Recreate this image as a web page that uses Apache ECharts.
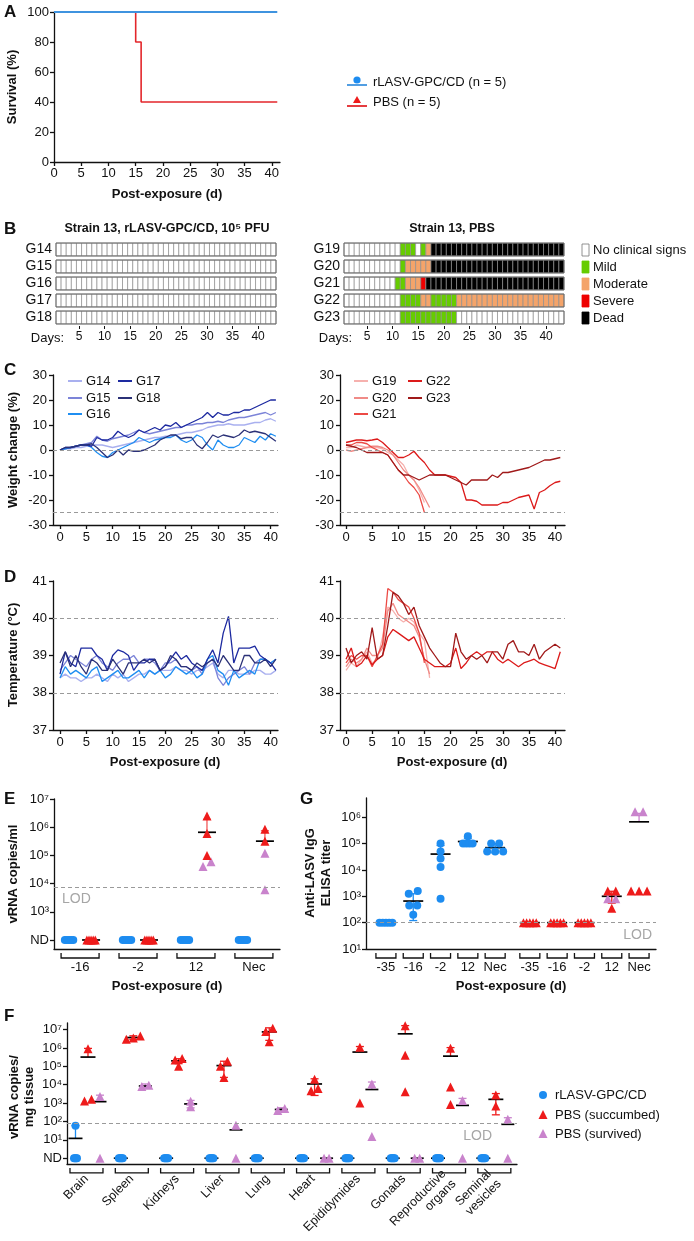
<!DOCTYPE html>
<html>
<head>
<meta charset="utf-8">
<script src="https://cdn.jsdelivr.net/npm/echarts@6.0.0/dist/echarts.min.js"></script>
<style>html,body{margin:0;padding:0;background:#fff;}#chart{width:694px;height:1241px;}</style>
</head>
<body>
<div id="chart"></div>
<script>
// ================= DATA =================
// A: survival
const survDaysVacc = [0, 41];
const survVacc = [100, 100];
const survDaysPBS = [0, 15, 16, 41];
const survPBS = [100, 80, 40, 40];
const xTicks40 = [0, 5, 10, 15, 20, 25, 30, 35, 40];
const survTicks = [0, 20, 40, 60, 80, 100];

// B: clinical signs (run-length: [status, number of days]); 0 none,1 mild,2 moderate,3 severe,4 dead
const vaccIds = ['G14', 'G15', 'G16', 'G17', 'G18'];
const pbsIds = ['G19', 'G20', 'G21', 'G22', 'G23'];
const signsVacc = [[[0, 43]], [[0, 43]], [[0, 43]], [[0, 43]], [[0, 43]]];
const signsPBS = [
  [[0, 11], [1, 3], [0, 1], [1, 1], [2, 1], [4, 26]],
  [[0, 11], [1, 1], [2, 5], [4, 26]],
  [[0, 10], [1, 2], [2, 3], [3, 1], [4, 27]],
  [[0, 11], [1, 4], [2, 2], [1, 5], [2, 21]],
  [[0, 11], [1, 11], [0, 21]]
];
const dayTicks = [5, 10, 15, 20, 25, 30, 35, 40];
const signNames = ['No clinical signs', 'Mild', 'Moderate', 'Severe', 'Dead'];

// C: weight change (%) per day from day 0
const wG14 = [0,0.5,0.5,1,1,1.5,2,2,2,1.5, 1,1.5,2,2.5,3,3.5,4,4.5,5,5, 5.5,5.5,6,6.5,7,7,7.5,8,9,9.5, 10,10,10.5,10,10,10,10.5,11,11,12, 12.5,11.5];
const wG15 = [0,0.5,1,1.5,2,2.5,3,5.5,4,3.5, 4.5,5,5.5,6,7,8,7,6.5,7,7.5, 8,8.5,9,9,10,10,10.5,10.5,11,11, 11.5,11,12,12.5,13,13,13.5,14,14.5,15, 14,15];
const wG16 = [0,0.5,1,1.5,2,2,1,-1,-2.5,-3, -1,0,1,2,3,5,4,3,4,4.5, 5,5,6,4,3,4,6,5,2,0, 4,2,1,1,2,5,4,3,5.5,4, 6.5,5.5];
const wG17 = [0,1,1,1.5,2,2,1.5,5,4,4, 5,7.5,6,5,6,8,7,8,9,8, 10,9.5,11,9,10,11,12,13,15,13, 15,14,14,15,15,16,16,17,18,19, 20,20];
const wG18 = [0,1,1,1.5,2,2,2.5,1,-1,-3, -2,0,-2,0,-0.5,-0.5,0,1,2,4, 5,6,6,4.5,5,5,2,0.5,3,6, 5,6,5.5,5,6,8,7,7.5,7,6.5, 5,3.5];
const wG19 = [1,1,2,1.5,1,1,1,0.5,-1,-2, -4,-6,-10,-12,-16,-21];
const wG20 = [0,-0.5,0,0.5,1,1.5,1.5,1,0,-2, -5,-8,-10,-12,-15,-19,-23];
const wG21 = [2,2,3,3,2.5,1,0,-1,-2,-5, -8,-10,-13,-15,-18,-25];
const wG22 = [3,3.5,4,4,3.7,4,4.4,3,1,-1, -3,-3,-2,-0.5,-3,-5, -8,-10,-10,-10, -10.5,-11,-13,-20,-20,-20.5, -22,-22,-22,-22, -21,-21,-20,-19,-18.5,-18, -23.6,-17,-16,-14.3, -13,-12.5];
const wG23 = [2,1.5,1,0,-1,-1,-1,-1,-2,-5, -8,-10,-10,-11,-12,-11, -10,-10,-10,-10,-11,-12,-13,-14,-12,-12, -12,-12,-10,-11,-9,-9,-8.5,-8,-7.5,-7, -6,-5,-4,-4,-3.5,-3];
const weightTicks = [-30, -20, -10, 0, 10, 20, 30];
const weightRefs = [0, -25];

// D: temperature (°C)
const tG14 = [38.4,38.5,38.4,38.4,38.3,38.4,38.4,38.5,38.4,38.3, 38.5,38.4,38.5,38.3,38.4,38.5,38.5,38.6,38.5,38.6, 38.6,38.6,38.7,38.6,38.6,38.5,38.6,38.6,38.7,38.8, 38.5,38.4,38.6,38.6,38.5,38.5,38.5,38.6,38.6,38.5, 38.5,38.6];
const tG15 = [38.6,38.8,39.0,38.9,38.8,38.7,38.9,39.0,38.8,38.7, 38.6,38.8,38.9,38.9,39.0,38.8,38.9,38.9,38.8,38.6, 38.8,38.8,38.9,38.7,38.7,38.6,38.7,38.5,38.8,38.9, 38.4,38.2,38.4,38.5,38.6,38.7,38.5,38.8,38.9,38.9, 38.8,38.9];
const tG16 = [38.4,38.7,38.5,38.6,38.5,38.4,38.6,38.7,38.3,38.4, 38.5,38.6,38.4,38.4,38.5,38.6,38.4,38.6,38.5,38.6, 38.4,38.5,38.7,38.6,38.5,38.6,38.4,38.5,38.9,39.0, 38.6,38.5,38.2,38.6,38.4,38.5,38.6,38.5,38.9,38.9, 38.8,38.9];
const tG17 = [38.5,39.1,38.8,38.7,39.2,39.2,39.2,39.0,38.9,38.6, 39.0,39.15,39.1,39.0,38.6,38.8,38.8,38.9,38.9,38.6, 38.7,38.9,39.1,38.9,39.0,38.8,38.7,38.6,38.9,39.15, 38.8,39.6,40.05,38.8,39.2,39.2,39.2,39.25,39.0,38.9, 38.8,38.6];
const tG18 = [38.8,39.1,38.7,39.0,38.7,38.5,38.9,38.8,38.6,38.6, 38.9,38.7,38.5,38.8,38.8,38.8,38.9,38.8,38.9,38.6, 38.7,39.0,38.9,38.7,38.7,38.6,38.8,38.7,38.8,38.9, 38.7,39.0,38.8,38.6,38.6,39.0,39.0,38.8,38.8,38.9, 38.7,38.9];
const tG19 = [38.6,38.8,38.7,38.9,39.1,38.8,38.9,39.5,40.3,40.2, 40.0,39.9,40.0,39.9,39.6,39.4,38.4];
const tG20 = [38.7,38.9,38.8,38.9,39.2,39.0,39.0,39.2,40.2,40.4, 40.1,40.0,39.9,39.8,39.5,38.9,38.5];
const tG21 = [38.8,39.0,38.9,39.0,39.0,38.7,39.0,39.3,40.8,40.7, 40.5,40.4,40.3,40.0,39.6,38.8];
const tG22 = [38.9,39.2,38.7,38.8,39.0,38.75,38.9,39.0,39.5,39.7, 39.6,39.5,39.4,39.5,39.2,38.9, 38.8,38.7,38.7,38.7,38.8,39.2,38.65,38.8,39.0,39.1, 39.0,39.1,39.1,38.9,38.8,38.9,38.8,38.7,38.8,38.85, 38.9,38.8,38.75,38.7,38.65,39.1];
const tG23 = [39.2,38.8,39.0,39.1,38.9,39.75,38.9,39.0,39.8,40.7, 40.6,40.4,40.1,40.3,39.8,39.5, 39.2,39.0,38.8,38.7,38.7,39.6,39.1,38.9,39.0,38.9, 39.0,38.8,39.1,39.1,38.9,39.3,39.4,39.1,39.1,39.0, 39.3,38.9,39.1,39.2,39.3,39.2];
const tempTicks = [37, 38, 39, 40, 41];
const tempRefs = [40, 38];

// E: vRNA copies/ml (0 = ND)
const eCats = ['-16', '-2', '12', 'Nec'];
const eVacc = [[0,0,0,0,0], [0,0,0,0,0], [0,0,0,0,0], [0,0,0,0,0]];
const eVaccMean = [0, 0, 0, 0];
const ePbsSucc = [[0,0,0,0,0], [0,0,0,0,0], [2.5e6, 6e5, 1e5], [8.5e5, 3.2e5]];
const ePbsSurv = [[], [], [4e4, 6e4], [1.2e5, 6e3]];
const ePbsMean = [0, 0, 6.6e5, 3.2e5];
const ePbsUp = [null, null, 1.9e6, 7.5e5];
const eLOD = 7.5e3;
const eTicks = [2, 3, 4, 5, 6, 7];

// G: anti-LASV IgG ELISA titer
const gCats = ['-35', '-16', '-2', '12', 'Nec'];
const gVacc = [[100,100,100,100,100], [1600,1250,450,450,200], [1e5,5e4,2.7e4,1.3e4,800], [1.9e5,1e5,1e5,1e5,1e5], [1e5,1e5,5e4,5e4,5e4]];
const gVaccMean = [100, 660, 4e4, 1.2e5, 7e4];
const gVaccUp = [null, 1250, 8.5e4, 1.6e5, 1e5];
const gVaccLo = [null, 120, null, 8.5e4, 4.5e4];
const gPbsSucc = [[100,100,100,100,100], [100,100,100,100,100], [100,100,100,100,100], [1600,1600,350], [1600,1600,1600]];
const gPbsSurv = [[], [], [], [800, 800], [1.6e6, 1.6e6]];
const gPbsMean = [100, 100, 100, 1000, 6.7e5];
const gPbsUp = [null, null, null, 1550, 1.4e6];
const gPbsLo = [null, null, null, 550, null];
const gLOD = 100;
const gTicks = [1, 2, 3, 4, 5, 6];

// F: vRNA copies/mg tissue (0 = ND)
const fCats = ['Brain', 'Spleen', 'Kidneys', 'Liver', 'Lung', 'Heart', 'Epididymides', 'Gonads', 'Reproductive\norgans', 'Seminal\nvesicles'];
const fVacc = [[59,0,0,0,0], [0,0,0,0,0], [0,0,0,0,0], [0,0,0,0,0], [0,0,0,0,0], [0,0,0,0,0], [0,0,0,0,0], [0,0,0,0,0], [0,0,0,0,0], [0,0,0,0,0]];
const fVaccMean = [12, 0, 0, 0, 0, 0, 0, 0, 0, 0];
const fVaccUp = [59, null, null, null, null, null, null, null, null, null];
const fSucc = [[9e5, 1.6e3, 1.3e3], [4.5e6, 3.5e6, 3e6], [2.7e5, 2.2e5, 1e5], [1.9e5, 1e5, 2.5e4], [1.2e7, 8e6, 2.2e6], [2e4, 6.3e3, 4.7e3], [1.1e6, 1e3], [1.6e7, 4e5, 4.2e3], [9.8e5, 7.6e3, 850], [2.8e3, 700]];
const fSuccMean = [3.2e5, 3.7e6, 2e5, 1.1e5, 7.5e6, 1.1e4, 6e5, 5.9e6, 3.6e5, 1.6e3];
const fSuccUp = [9.5e5, 4.6e6, 2.6e5, 1.9e5, 1.25e7, 2.1e4, 1.2e6, 1.65e7, 1.05e6, 3.3e3];
const fSuccLo = [null, 2.9e6, 1.4e5, 2.5e4, 2.6e6, 2.6e3, null, null, null, 230];
const fSurv = [[2.3e3, 0], [9.5e3, 8e3], [1.26e3, 630], [63, 0], [500, 400], [0, 0], [1.1e4, 15], [0, 0], [1.4e3, 0], [130, 0]];
const fSurvMean = [1.2e3, 8.5e3, 900, 35, 450, 0, 5.5e3, 0, 750, 70];
const fSurvUp = [2.7e3, 1.1e4, 1.4e3, null, 560, null, 1.4e4, null, 1.8e3, 160];
const fSurvLo = [null, 7e3, 550, null, 360, null, null, null, null, null];
const fLOD = 80;
const fTicks = [0, 1, 2, 3, 4, 5, 6, 7];

// ================= STYLE / BUILD =================
const FONT = '"Liberation Sans", Arial, Helvetica, sans-serif';
const INK = '#111';
const BLUE = '#1d8cf0', RED = '#ee1b1b', PINK = '#c983cc';
const VACC_COLORS = ['#a9b0ef', '#7c84d8', '#1f8ef1', '#1d2aa0', '#2b3177'];
const PBS_COLORS = ['#f6b1ae', '#f08b87', '#ec4a45', '#dc1a1a', '#a01a1a'];
const SIGN_COLORS = ['#ffffff', '#66cc00', '#f4a46a', '#ee0000', '#000000'];
const SUP = {'1':'\u00b9','2':'\u00b2','3':'\u00b3','4':'\u2074','5':'\u2075','6':'\u2076','7':'\u2077'};
const pow10 = v => '10' + SUP[String(v)];

function merge(a, b) {
  const o = Object.assign({}, a);
  for (const k in b) {
    const v = b[k];
    if (v && typeof v === 'object' && !Array.isArray(v) && o[k] && typeof o[k] === 'object' && !Array.isArray(o[k])) o[k] = merge(o[k], v);
    else o[k] = v;
  }
  return o;
}
const baseAxis = {
  type: 'value', splitLine: {show: false},
  axisLine: {show: true, onZero: false, lineStyle: {color: INK, width: 1.3}},
  axisTick: {show: true, length: 4, lineStyle: {color: INK, width: 1.3}},
  axisLabel: {color: INK, fontSize: 13, fontFamily: FONT, margin: 6}
};
const valAxis = o => merge(baseAxis, o || {});

const grids = [], xAxis = [], yAxis = [], series = [];
function addGrid(rect, xa, ya) {
  const gi = grids.length;
  grids.push(rect);
  xa.gridIndex = gi; ya.gridIndex = gi;
  xAxis.push(xa); yAxis.push(ya);
  return gi;
}
function lineSeries(gi, arr, color, w) {
  return {type: 'line', xAxisIndex: gi, yAxisIndex: gi, data: arr.map((v, i) => [i, v]), showSymbol: false, symbol: 'none',
    lineStyle: {color, width: w || 1.3}, itemStyle: {color}, z: 3, silent: true};
}
function refLines(values) {
  return {silent: true, symbol: 'none', label: {show: false}, lineStyle: {color: '#9a9a9a', type: [4, 3], width: 1.2},
    data: values.map(v => ({yAxis: v}))};
}

// ---- A ----
const gA = addGrid({left: 54, top: 12, width: 226, height: 150},
  valAxis({min: 0, max: 41.5, axisTick: {customValues: xTicks40}, axisLabel: {customValues: xTicks40, margin: 5}}),
  valAxis({min: 0, max: 100, axisTick: {customValues: survTicks}, axisLabel: {customValues: survTicks, margin: 5}}));
series.push({type: 'line', xAxisIndex: gA, yAxisIndex: gA, data: survDaysPBS.map((d, i) => [d, survPBS[i]]), step: 'end',
  showSymbol: false, symbol: 'none', lineStyle: {color: '#e3262b', width: 1.6}, z: 2, silent: true});
series.push({type: 'line', xAxisIndex: gA, yAxisIndex: gA, data: survDaysVacc.map((d, i) => [d, survVacc[i]]),
  showSymbol: false, symbol: 'none', lineStyle: {color: '#3f93df', width: 1.8}, z: 3, silent: true});

// ---- B ----
function expand(runs) { const out = []; runs.forEach(([s, n]) => { for (let k = 0; k < n; k++) out.push(s); }); return out; }
function addHeat(left, ids, runs) {
  const gi = addGrid({left, top: 241, width: 220, height: 85},
    valAxis({min: 0.5, max: 43.5, axisLine: {show: false}, axisTick: {customValues: dayTicks, length: 3, lineStyle: {width: 1}},
      axisLabel: {customValues: dayTicks, fontSize: 12, margin: 5}}),
    {type: 'category', data: ids, inverse: true, axisLine: {show: false}, axisTick: {show: false},
      axisLabel: {color: INK, fontSize: 14, fontFamily: FONT, margin: 4, interval: 0}});
  const data = [];
  runs.forEach((r, ri) => expand(r).forEach((s, di) => data.push([di + 1, ri, s])));
  series.push({type: 'custom', xAxisIndex: gi, yAxisIndex: gi, data, silent: true, z: 2,
    renderItem(params, api) {
      const p = api.coord([api.value(0), api.value(1)]);
      const s = api.size([1, 1]);
      const h = s[1] * 0.76;
      return {type: 'rect', shape: {x: p[0] - s[0] / 2, y: p[1] - h / 2, width: s[0], height: h},
        style: {fill: SIGN_COLORS[api.value(2)], stroke: '#8f8f8f', lineWidth: 0.7}};
    }});
  series.push({type: 'custom', xAxisIndex: gi, yAxisIndex: gi, data: ids.map((_, i) => [0.5, i]), silent: true, z: 3,
    renderItem(params, api) {
      const p1 = api.coord([0.5, api.value(1)]), p2 = api.coord([43.5, api.value(1)]);
      const h = api.size([1, 1])[1] * 0.76;
      return {type: 'rect', shape: {x: p1[0], y: p1[1] - h / 2, width: p2[0] - p1[0], height: h},
        style: {fill: 'none', stroke: '#6a6a6a', lineWidth: 1}};
    }});
  return gi;
}
addHeat(56, vaccIds, signsVacc);
addHeat(344, pbsIds, signsPBS);

// ---- C & D ----
function addTimeGrid(left, top, height, xmin, xmax, yticks) {
  return addGrid({left, top, width: 225, height},
    valAxis({min: xmin, max: xmax, axisTick: {customValues: xTicks40}, axisLabel: {customValues: xTicks40, margin: 6}}),
    valAxis({min: yticks[0], max: yticks[yticks.length - 1], axisTick: {customValues: yticks}, axisLabel: {customValues: yticks, margin: 6}}));
}
const gCL = addTimeGrid(53, 375, 150, -1.33, 41.4, weightTicks);
const gCR = addTimeGrid(340, 375, 150, -1.15, 41.9, weightTicks);
const gDL = addTimeGrid(53, 581, 149, -1.33, 41.4, tempTicks);
const gDR = addTimeGrid(340, 581, 149, -1.15, 41.9, tempTicks);
[[gCL, [wG14, wG15, wG16, wG17, wG18], VACC_COLORS, weightRefs],
 [gCR, [wG19, wG20, wG21, wG22, wG23], PBS_COLORS, weightRefs],
 [gDL, [tG14, tG15, tG16, tG17, tG18], VACC_COLORS, tempRefs],
 [gDR, [tG19, tG20, tG21, tG22, tG23], PBS_COLORS, tempRefs]].forEach(([gi, arrs, cols, refs]) => {
  arrs.forEach((a, k) => {
    const s = lineSeries(gi, a, cols[k]);
    if (k === 0) s.markLine = refLines(refs);
    series.push(s);
  });
});

// ---- dot plot helpers ----
function toLog(v, nd) { return v > 0 ? Math.log10(v) : nd; }
function spread(vals, opt) {
  const idx = vals.map((v, i) => i).sort((a, b) => vals[a] - vals[b]);
  const offs = new Array(vals.length).fill(0);
  if (!idx.length) return offs;
  let cl = [idx[0]];
  const flush = () => {
    const n = cl.length;
    const eq = cl.every(k => vals[k] === vals[cl[0]]);
    const st = eq ? (n >= 4 ? opt.eqBig : opt.eqSmall) : opt.near;
    cl.forEach((k, j) => { offs[k] = (j - (n - 1) / 2) * st; });
  };
  for (let j = 1; j < idx.length; j++) {
    if (vals[idx[j]] - vals[idx[j - 1]] < opt.thr) cl.push(idx[j]); else { flush(); cl = [idx[j]]; }
  }
  flush();
  return offs;
}
function makeStore() { return {blue: [], red: [], pink: [], means: [], brackets: []}; }
function placeGroup(store, x, pts, nd, ppu, opt) {
  const lv = pts.map(p => toLog(p.v, nd));
  const offs = spread(lv, opt);
  pts.forEach((p, j) => store[p.k].push([x + offs[j] / ppu, lv[j]]));
}
function addMean(store, x, m, up, lo, nd, hw, color) {
  store.means.push({x, m: toLog(m, nd), up: up == null ? null : toLog(up, nd), lo: lo == null ? null : toLog(lo, nd), hw, color});
}
function emitDots(gi, store, ymin, bracketHalf, lodValue, dotSize) {
  const items = store.means;
  series.push({type: 'custom', xAxisIndex: gi, yAxisIndex: gi, clip: false, silent: true, z: 2,
    data: items.map((it, i) => [it.x, it.m, i]),
    renderItem(params, api) {
      const it = items[api.value(2)];
      const pm = api.coord([it.x, it.m]);
      const ch = [];
      [it.up, it.lo].forEach(b => {
        if (b == null) return;
        const pb = api.coord([it.x, b]);
        ch.push({type: 'line', shape: {x1: pm[0], y1: pm[1], x2: pm[0], y2: pb[1]}, style: {stroke: it.color, lineWidth: 1.3}});
        ch.push({type: 'line', shape: {x1: pm[0] - 4, y1: pb[1], x2: pm[0] + 4, y2: pb[1]}, style: {stroke: it.color, lineWidth: 1.3}});
      });
      ch.push({type: 'line', shape: {x1: pm[0] - it.hw, y1: pm[1], x2: pm[0] + it.hw, y2: pm[1]}, style: {stroke: '#000', lineWidth: 1.7}});
      return {type: 'group', children: ch};
    }});
  const br = store.brackets;
  series.push({type: 'custom', xAxisIndex: gi, yAxisIndex: gi, clip: false, silent: true, z: 2,
    data: br.map((x, i) => [x, ymin, i]),
    renderItem(params, api) {
      const p = api.coord([api.value(0), ymin]);
      const y0 = p[1] + 4, y1 = p[1] + 9;
      return {type: 'polyline', shape: {points: [[p[0] - bracketHalf, y0], [p[0] - bracketHalf, y1], [p[0] + bracketHalf, y1], [p[0] + bracketHalf, y0]]},
        style: {fill: 'none', stroke: INK, lineWidth: 1.3}};
    }});
  const sc = (data, symbol, color, size, extra) => Object.assign({type: 'scatter', xAxisIndex: gi, yAxisIndex: gi, data, symbol, symbolSize: size,
    itemStyle: {color, opacity: 1}, z: 4, silent: true}, extra || {});
  series.push(sc(store.pink, 'triangle', PINK, dotSize + 1));
  series.push(sc(store.red, 'triangle', RED, dotSize + 1));
  series.push(sc(store.blue, 'circle', BLUE, dotSize, {markLine: refLines([Math.log10(lodValue)])}));
}

// ---- E ----
const eXmin = -0.45, eXmax = 3.45, eW = 226;
const ppuE = eW / (eXmax - eXmin);
const gE = addGrid({left: 54, top: 799, width: eW, height: 150},
  valAxis({min: eXmin, max: eXmax, axisTick: {show: false},
    axisLabel: {customValues: eCats.map((c, i) => i), formatter: v => eCats[Math.round(v)], margin: 12}}),
  valAxis({min: 1.68, max: 7, axisTick: {customValues: eTicks}, axisLabel: {customValues: eTicks, formatter: v => v === 2 ? 'ND' : pow10(v), margin: 5}}));
const sE = makeStore();
const optE = {eqBig: 2.1, eqSmall: 7, near: 8, thr: 0.2};
eCats.forEach((c, i) => {
  const xv = i - 11 / ppuE, xp = i + 11 / ppuE;
  sE.brackets.push(i);
  placeGroup(sE, xv, eVacc[i].map(v => ({v, k: 'blue'})), 2, ppuE, optE);
  addMean(sE, xv, eVaccMean[i], null, null, 2, 6, BLUE);
  placeGroup(sE, xp, ePbsSucc[i].map(v => ({v, k: 'red'})).concat(ePbsSurv[i].map(v => ({v, k: 'pink'}))), 2, ppuE, optE);
  addMean(sE, xp, ePbsMean[i], ePbsUp[i], null, 2, 9, '#f05a5a');
});
emitDots(gE, sE, 1.68, 19, eLOD, 8);

// ---- G ----
const gXmin = -0.73, gXmax = 9.89, gW = 290;
const ppuG = gW / (gXmax - gXmin);
const gGroupShift = 5.27;
const gPositions = gCats.map((c, i) => i).concat(gCats.map((c, i) => i + gGroupShift));
const gLabels = gCats.concat(gCats);
const gG = addGrid({left: 366, top: 798, width: gW, height: 151},
  valAxis({min: gXmin, max: gXmax, axisTick: {show: false},
    axisLabel: {customValues: gPositions, formatter: v => gLabels[gPositions.findIndex(p => Math.abs(p - v) < 1e-6)], margin: 12}}),
  valAxis({min: 1, max: 6.73, axisTick: {customValues: gTicks}, axisLabel: {customValues: gTicks, formatter: v => pow10(v), margin: 5}}));
const sG = makeStore();
const optG = {eqBig: 3.2, eqSmall: 8, near: 9, thr: 0.25};
gCats.forEach((c, i) => {
  const xv = i, xp = i + gGroupShift;
  sG.brackets.push(xv, xp);
  placeGroup(sG, xv, gVacc[i].map(v => ({v, k: 'blue'})), 1, ppuG, optG);
  addMean(sG, xv, gVaccMean[i], gVaccUp[i], gVaccLo[i], 1, 10, BLUE);
  placeGroup(sG, xp, gPbsSucc[i].map(v => ({v, k: 'red'})).concat(gPbsSurv[i].map(v => ({v, k: 'pink'}))), 1, ppuG, optG);
  addMean(sG, xp, gPbsMean[i], gPbsUp[i], gPbsLo[i], 1, 10, i === 4 ? PINK : RED);
});
emitDots(gG, sG, 1, 10, gLOD, 8);

// ---- F ----
const fXmin = -0.43, fXmax = 9.5, fW = 450;
const ppuF = fW / (fXmax - fXmin);
const gF = addGrid({left: 67, top: 1023, width: fW, height: 148},
  valAxis({min: fXmin, max: fXmax, axisTick: {show: false},
    axisLabel: {customValues: fCats.map((c, i) => i), formatter: v => fCats[Math.round(v)], rotate: 45, margin: 13, fontSize: 12.5, lineHeight: 14}}),
  valAxis({min: -0.31, max: 7.36, axisTick: {customValues: fTicks}, axisLabel: {customValues: fTicks, formatter: v => v === 0 ? 'ND' : pow10(v), margin: 5}}));
const sF = makeStore();
const optF = {eqBig: 1, eqSmall: 5, near: 7, thr: 0.3};
fCats.forEach((c, i) => {
  const xb = i - 11 / ppuF, xr = i + 1.5 / ppuF, xk = i + 13.5 / ppuF;
  sF.brackets.push(i);
  placeGroup(sF, xb, fVacc[i].map(v => ({v, k: 'blue'})), 0, ppuF, optF);
  addMean(sF, xb, fVaccMean[i], fVaccUp[i], null, 0, 7, BLUE);
  placeGroup(sF, xr, fSucc[i].map(v => ({v, k: 'red'})), 0, ppuF, optF);
  addMean(sF, xr, fSuccMean[i], fSuccUp[i], fSuccLo[i], 0, 7.5, RED);
  placeGroup(sF, xk, fSurv[i].map(v => ({v, k: 'pink'})), 0, ppuF, optF);
  addMean(sF, xk, fSurvMean[i], fSurvUp[i], fSurvLo[i], 0, 6.5, PINK);
});
emitDots(gF, sF, -0.31, 16.5, fLOD, 8);

// ================= RENDER =================
const chart = echarts.init(document.getElementById('chart'), null, {renderer: 'canvas', width: 694, height: 1241});
chart.setOption({animation: false, backgroundColor: '#fff', textStyle: {fontFamily: FONT}, grid: grids, xAxis, yAxis, series});

// ---- text & legends ----
function txt(x, y, text, o) {
  o = o || {};
  const size = o.size || 13;
  return {type: 'text', x, y, rotation: o.rot || 0, silent: true, z: 10,
    style: {text, fill: o.color || INK, font: (o.bold ? 'bold ' : '') + size + 'px ' + FONT,
      textAlign: o.align || 'center', textVerticalAlign: 'middle', align: o.align || 'center', verticalAlign: 'middle',
      lineHeight: o.lh || size + 2}};
}
const R90 = Math.PI / 2;
const g = [];
[['A', 12], ['B', 229], ['C', 370], ['D', 577], ['E', 799], ['F', 1016]].forEach(([l, y]) => g.push(txt(4, y, l, {bold: true, size: 17, align: 'left'})));
g.push(txt(300, 799, 'G', {bold: true, size: 17, align: 'left'}));
g.push(txt(12, 87, 'Survival (%)', {bold: true, rot: R90}));
g.push(txt(167, 194, 'Post-exposure (d)', {bold: true}));
g.push(txt(13, 450, 'Weight change (%)', {bold: true, rot: R90}));
g.push(txt(13, 655, 'Temperature (\u00b0C)', {bold: true, rot: R90}));
g.push(txt(165, 762, 'Post-exposure (d)', {bold: true}));
g.push(txt(452, 762, 'Post-exposure (d)', {bold: true}));
g.push(txt(13, 874, 'vRNA copies/ml', {bold: true, rot: R90}));
g.push(txt(167, 986, 'Post-exposure (d)', {bold: true}));
g.push(txt(318, 873, 'Anti-LASV IgG\nELISA titer', {bold: true, rot: R90, lh: 16}));
g.push(txt(511, 986, 'Post-exposure (d)', {bold: true}));
g.push(txt(22, 1097, 'vRNA copies/\nmg tissue', {bold: true, rot: R90, lh: 15}));
// A legend
g.push({type: 'line', shape: {x1: 347, y1: 85, x2: 367, y2: 85}, style: {stroke: '#3f93df', lineWidth: 1.8}, silent: true});
g.push({type: 'circle', shape: {cx: 357, cy: 80, r: 3.6}, style: {fill: BLUE}, silent: true});
g.push(txt(373, 82, 'rLASV-GPC/CD (n = 5)', {align: 'left'}));
g.push({type: 'line', shape: {x1: 347, y1: 106, x2: 367, y2: 106}, style: {stroke: '#e3262b', lineWidth: 1.8}, silent: true});
g.push({type: 'polygon', shape: {points: [[357, 96], [353, 103], [361, 103]]}, style: {fill: RED}, silent: true});
g.push(txt(373, 102, 'PBS (n = 5)', {align: 'left'}));
// B titles, Days labels, legend
g.push(txt(167, 229, 'Strain 13, rLASV-GPC/CD, 10\u2075 PFU', {bold: true, size: 12.5}));
g.push(txt(452, 229, 'Strain 13, PBS', {bold: true, size: 12.5}));
g.push(txt(64, 338, 'Days:', {align: 'right'}));
g.push(txt(352, 338, 'Days:', {align: 'right'}));
signNames.forEach((n, i) => {
  const y = 250 + i * 17;
  g.push({type: 'rect', shape: {x: 582, y: y - 6, width: 7, height: 12}, style: {fill: SIGN_COLORS[i], stroke: i === 0 ? '#777' : SIGN_COLORS[i], lineWidth: 0.8}, silent: true});
  g.push(txt(593, y, n, {align: 'left'}));
});
// C legends
function lineLegend(x, y, color, label) {
  g.push({type: 'line', shape: {x1: x, y1: y, x2: x + 14, y2: y}, style: {stroke: color, lineWidth: 2}, silent: true});
  g.push(txt(x + 18, y, label, {align: 'left'}));
}
[[68, 381], [68, 398], [68, 414], [118, 381], [118, 398]].forEach(([x, y], k) => lineLegend(x, y, VACC_COLORS[k], vaccIds[k]));
[[354, 381], [354, 398], [354, 414], [408, 381], [408, 398]].forEach(([x, y], k) => lineLegend(x, y, PBS_COLORS[k], pbsIds[k]));
// F legend
g.push({type: 'circle', shape: {cx: 543, cy: 1095, r: 4}, style: {fill: BLUE}, silent: true});
g.push(txt(555, 1095, 'rLASV-GPC/CD', {align: 'left'}));
g.push({type: 'polygon', shape: {points: [[543, 1110], [538.5, 1119], [547.5, 1119]]}, style: {fill: RED}, silent: true});
g.push(txt(555, 1115, 'PBS (succumbed)', {align: 'left'}));
g.push({type: 'polygon', shape: {points: [[543, 1129], [538.5, 1138], [547.5, 1138]]}, style: {fill: PINK}, silent: true});
g.push(txt(555, 1134, 'PBS (survived)', {align: 'left'}));
// LOD labels anchored to the LOD lines via the axes
const pE = chart.convertToPixel({gridIndex: gE}, [eXmin, Math.log10(eLOD)]);
g.push(txt(pE[0] + 8, pE[1] + 12, 'LOD', {align: 'left', size: 14, color: '#a6a6a6'}));
const pG = chart.convertToPixel({gridIndex: gG}, [gXmax, Math.log10(gLOD)]);
g.push(txt(pG[0] - 4, pG[1] + 12, 'LOD', {align: 'right', size: 14, color: '#a6a6a6'}));
const pF = chart.convertToPixel({gridIndex: gF}, [fXmax, Math.log10(fLOD)]);
g.push(txt(pF[0] - 25, pF[1] + 13, 'LOD', {align: 'right', size: 14, color: '#a6a6a6'}));

chart.setOption({graphic: g});
</script>
</body>
</html>
